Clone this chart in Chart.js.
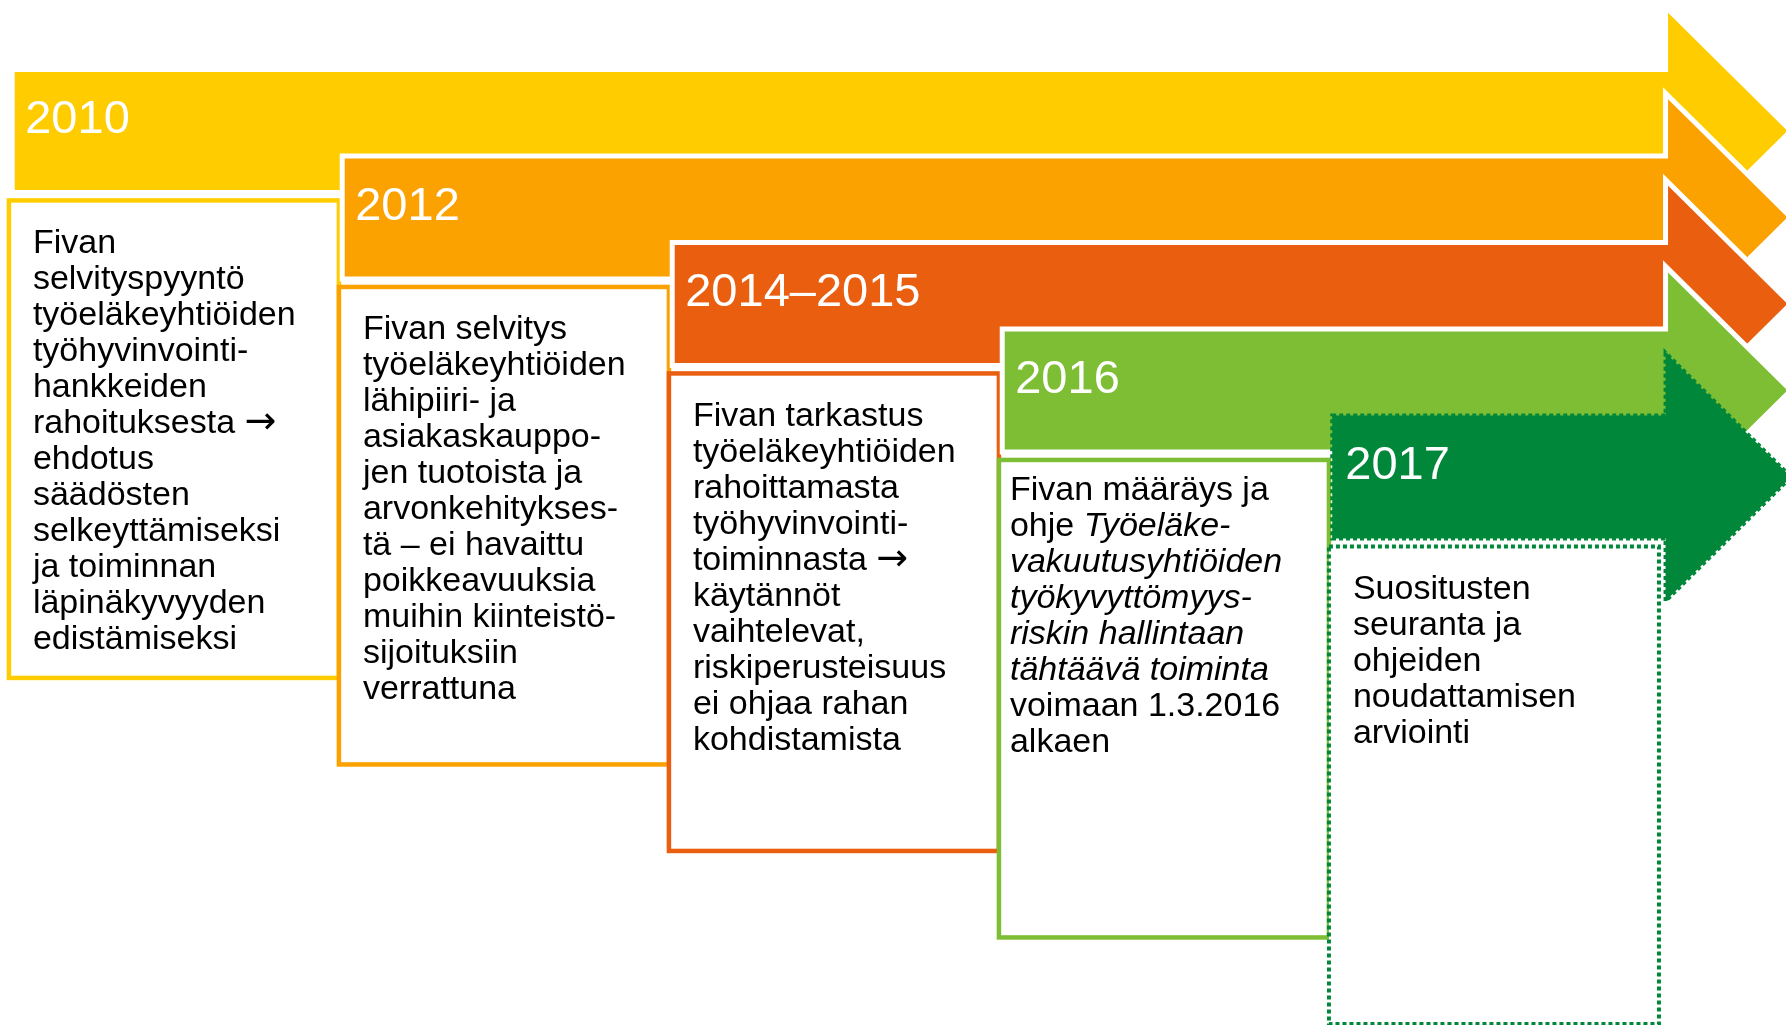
<!DOCTYPE html>
<html lang="fi">
<head>
<meta charset="utf-8">
<title>Työhyvinvointitoiminnan valvonta 2010–2017</title>
<script src="https://cdn.jsdelivr.net/npm/chart.js@4.4.1/dist/chart.umd.min.js"></script>
<style>
  html, body { margin: 0; padding: 0; background: #fff; }
  #wrap { width: 1786px; height: 1025px; position: relative; }
</style>
</head>
<body>
<div id="wrap"><canvas id="timelineChart"></canvas></div>
<script>
// Vaiheet
const years = ['2010', '2012', '2014–2015', '2016', '2017'];
const stageColors = ['#FFCC00', '#FBA100', '#EA5E10', '#7DBE34', '#00873A'];
const dottedStage = [false, false, false, false, true];

// Laatikoiden tekstit riveittäin (*...* = kursiivi)
const text2010 = [
    'Fivan', 'selvityspyyntö', 'työeläkeyhtiöiden', 'työhyvinvointi-', 'hankkeiden',
    'rahoituksesta →', 'ehdotus', 'säädösten', 'selkeyttämiseksi', 'ja toiminnan',
    'läpinäkyvyyden', 'edistämiseksi'
];
const text2012 = [
    'Fivan selvitys', 'työeläkeyhtiöiden', 'lähipiiri- ja', 'asiakaskauppo-',
    'jen tuotoista ja', 'arvonkehitykses-', 'tä – ei havaittu', 'poikkeavuuksia',
    'muihin kiinteistö-', 'sijoituksiin', 'verrattuna'
];
const text2014 = [
    'Fivan tarkastus', 'työeläkeyhtiöiden', 'rahoittamasta', 'työhyvinvointi-',
    'toiminnasta →', 'käytännöt', 'vaihtelevat,', 'riskiperusteisuus',
    'ei ohjaa rahan', 'kohdistamista'
];
const text2016 = [
    'Fivan määräys ja', 'ohje *Työeläke-*', '*vakuutusyhtiöiden*', '*työkyvyttömyys-*',
    '*riskin hallintaan*', '*tähtäävä toiminta*', 'voimaan 1.3.2016', 'alkaen'
];
const text2017 = [
    'Suositusten', 'seuranta ja', 'ohjeiden', 'noudattamisen', 'arviointi'
];
const stageTexts = [text2010, text2012, text2014, text2016, text2017];

// Muoto (asteikon yksikköinä: x = vaihe, y = rivi)
const shaftH = 1.422;    // nuolen varren korkeus
const headOut = 0.724;   // kärjen ulkonema varren yli
const shaftEnd = 5.02;   // varren loppu
const tipX = 5.40;       // kärki
const boxGap = 0.092;
const boxH = 5.52;

// tekstin sisennys laatikossa [x, y] px
const textInset = [[24, 43], [24, 43], [24, 43], [11, 31], [24, 43]];

const FONT = '"Liberation Sans", Arial, sans-serif';

function drawRichLine(ctx, line, x, y) {
    const parts = line.split('*');
    let cx = x;
    parts.forEach((part, k) => {
        if (!part) return;
        // nuolimerkki eri fontilla
        part.split(/(→)/).forEach(seg => {
            if (!seg) return;
            if (seg === '→') {
                ctx.font = '38px "DejaVu Sans", sans-serif';
            } else {
                ctx.font = (k % 2 ? 'italic ' : '') + '34px ' + FONT;
            }
            ctx.fillText(seg, cx, y);
            cx += ctx.measureText(seg).width;
        });
    });
}

const timelinePlugin = {
    id: 'timeline',
    afterDatasetsDraw(chart) {
        const { ctx, scales: { x, y } } = chart;
        const points = chart.getDatasetMeta(0).data;
        ctx.save();
        years.forEach((year, i) => {
            const color = stageColors[i];
            const left = points[i].x;
            const top = points[i].y;
            const bot = y.getPixelForValue(i + shaftH);
            const xe = x.getPixelForValue(shaftEnd);
            const headTop = y.getPixelForValue(i - headOut);
            const headBot = y.getPixelForValue(i + shaftH + headOut);
            const tip = x.getPixelForValue(tipX);
            const mid = (top + bot) / 2;

            // nuoli
            ctx.beginPath();
            ctx.moveTo(left, top);
            ctx.lineTo(xe, top);
            ctx.lineTo(xe, headTop);
            ctx.lineTo(tip, mid);
            ctx.lineTo(xe, headBot);
            ctx.lineTo(xe, bot);
            ctx.lineTo(left, bot);
            ctx.closePath();
            ctx.fillStyle = color;
            ctx.fill();
            ctx.lineJoin = 'miter';
            if (dottedStage[i]) {
                ctx.setLineDash([4, 3]);
                ctx.strokeStyle = color;
                ctx.lineWidth = 4;
            } else {
                ctx.setLineDash([]);
                ctx.strokeStyle = '#ffffff';
                ctx.lineWidth = 5;
            }
            ctx.stroke();

            // vuosi
            ctx.setLineDash([]);
            ctx.fillStyle = '#ffffff';
            ctx.font = '47px ' + FONT;
            ctx.textBaseline = 'middle';
            ctx.textAlign = 'left';
            ctx.fillText(year, left + 13, top + 51);

            // laatikko
            const bx0 = x.getPixelForValue(i);
            const bx1 = x.getPixelForValue(i + 1);
            const by0 = y.getPixelForValue(i + shaftH + boxGap);
            const by1 = y.getPixelForValue(i + shaftH + boxGap + boxH);
            ctx.fillStyle = '#ffffff';
            ctx.fillRect(bx0, by0, bx1 - bx0, by1 - by0);
            if (dottedStage[i]) {
                ctx.setLineDash([4, 3]);
                ctx.lineWidth = 4;
            } else {
                ctx.setLineDash([]);
                ctx.lineWidth = 4.5;
            }
            ctx.strokeStyle = color;
            ctx.strokeRect(bx0, by0, bx1 - bx0, by1 - by0);
            ctx.setLineDash([]);

            // teksti
            ctx.fillStyle = '#000000';
            const [tx, ty] = textInset[i];
            stageTexts[i].forEach((line, k) => {
                drawRichLine(ctx, line, bx0 + tx, by0 + ty + k * 36);
            });
        });
        ctx.restore();
    }
};

new Chart(document.getElementById('timelineChart'), {
    type: 'scatter',
    data: {
        datasets: [{
            label: 'Vaiheet',
            data: years.map((yr, i) => ({ x: i + 0.01, y: i })),
            pointRadius: 0
        }]
    },
    options: {
        responsive: true,
        maintainAspectRatio: false,
        animation: false,
        events: [],
        layout: { padding: 0 },
        plugins: {
            legend: { display: false },
            tooltip: { enabled: false }
        },
        scales: {
            x: { type: 'linear', display: false, min: -0.027, max: 5.385 },
            y: { type: 'linear', display: false, reverse: true, min: -0.803, max: 11.046 }
        }
    },
    plugins: [timelinePlugin]
});
</script>
</body>
</html>
